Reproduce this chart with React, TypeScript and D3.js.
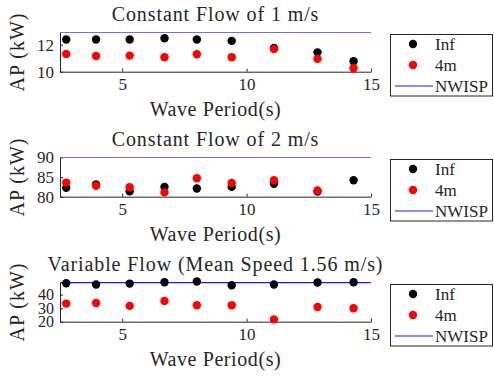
import React, { useEffect, useRef } from 'react';
import * as d3 from 'd3';

// wave periods (s) shared by all three panels
const periods = [2.75, 3.95, 5.3, 6.7, 8.0, 9.4, 11.1, 12.85, 14.3];

// panel 1: constant flow 1 m/s
const flow1Inf = [12.38, 12.38, 12.38, 12.48, 12.38, 12.28, 11.75, 11.43, 10.78];
const flow1Fm = [11.31, 11.16, 11.19, 11.07, 11.29, 11.07, 11.67, 10.95, 10.25];
const flow1Nwisp = 12.9;

// panel 2: constant flow 2 m/s
const flow2Inf = [82.3, 83.1, 81.4, 82.5, 82.1, 82.5, 83.3, 81.3, 84.2];
const flow2Fm = [83.6, 82.8, 82.4, 81.1, 84.7, 83.5, 84.2, 81.6, null];
const flow2Nwisp = 90;

// panel 3: variable flow
const varInf = [48.5, 47.5, 48.2, 49.2, 49.7, 47.0, 47.5, 49.0, 49.2];
const varFm = [33.4, 33.9, 31.7, 35.3, 32.2, 32.2, 21.7, 30.9, 30.0];
const varNwisp = 48.9;

const titles = ['Constant Flow of 1 m/s', 'Constant Flow of 2 m/s', 'Variable Flow (Mean Speed 1.56 m/s)'];
const yDomains = [[10, 12.9], [80, 90], [20, 49]];
const yTicks = [[10, 12], [80, 85, 90], [20, 30, 40]];
const xTicks = [5, 10, 15];
const legendLabels = ['Inf', '4m', 'NWISP'];

const FONT = 'Liberation Serif';
const INK = '#262626';

const App = () => {
    const ref = useRef<SVGSVGElement | null>(null);

    useEffect(() => {
        const svg = d3.select(ref.current);
        svg.selectAll('*').remove();

        const panels = [
            { inf: flow1Inf, fm: flow1Fm, nwisp: flow1Nwisp, lineColor: '#7070ff' },
            { inf: flow2Inf, fm: flow2Fm, nwisp: flow2Nwisp, lineColor: '#7070ff' },
            { inf: varInf, fm: varFm, nwisp: varNwisp, lineColor: '#1a1aff' },
        ];

        const left = 60, right = 371, top = 32.5, bottom = 71.7;
        const x = d3.scaleLinear().domain([2.5, 15]).range([left, right]);

        panels.forEach((p, i) => {
            const g = svg.append('g').attr('transform', `translate(0,${i * 125})`);
            const y = d3.scaleLinear().domain(yDomains[i]).range([bottom, top]);

            // x axis, ticks pointing inwards like matlab
            const xAxis = g.append('g')
                .attr('transform', `translate(0,${bottom})`)
                .call(d3.axisBottom(x).tickValues(xTicks).tickFormat(d3.format('d'))
                    .tickSizeInner(-3).tickSizeOuter(0).tickPadding(6));
            xAxis.attr('font-family', FONT).attr('font-size', 17);
            xAxis.select('.domain').attr('stroke', INK);
            xAxis.selectAll('line').attr('stroke', INK);
            xAxis.selectAll('text').attr('fill', INK);

            // y axis
            const yAxis = g.append('g')
                .attr('transform', `translate(${left},0)`)
                .call(d3.axisLeft(y).tickValues(yTicks[i]).tickFormat(d3.format('d'))
                    .tickSizeInner(-3).tickSizeOuter(0).tickPadding(6));
            yAxis.attr('font-family', FONT).attr('font-size', i === 2 ? 16 : 17);
            yAxis.select('.domain').attr('stroke', INK);
            yAxis.selectAll('line').attr('stroke', INK);
            yAxis.selectAll('text').attr('fill', INK);

            // NWISP reference line
            g.append('line')
                .attr('x1', x(2.5)).attr('x2', x(15))
                .attr('y1', y(p.nwisp)).attr('y2', y(p.nwisp))
                .attr('stroke', p.lineColor).attr('stroke-width', 1.2);

            g.selectAll('.inf')
                .data(periods)
                .enter()
                .append('circle')
                .attr('cx', d => x(d))
                .attr('cy', (d, j) => y(p.inf[j] as number))
                .attr('r', 4.2)
                .attr('fill', 'black');

            g.selectAll('.fm')
                .data(periods.map((d, j) => ({ t: d, v: p.fm[j] })).filter(d => d.v != null))
                .enter()
                .append('circle')
                .attr('cx', d => x(d.t))
                .attr('cy', d => y(d.v as number))
                .attr('r', 4.2)
                .attr('fill', 'red');

            // title and labels
            g.append('text')
                .attr('x', (left + right) / 2).attr('y', 20.5)
                .attr('text-anchor', 'middle')
                .attr('font-family', FONT).attr('font-size', 20)
                .attr('letter-spacing', 0.9)
                .attr('fill', INK)
                .text(titles[i]);

            g.append('text')
                .attr('x', (left + right) / 2).attr('y', 116)
                .attr('text-anchor', 'middle')
                .attr('font-family', FONT).attr('font-size', 20)
                .attr('letter-spacing', 0.6)
                .attr('fill', INK)
                .text('Wave Period(s)');

            g.append('text')
                .attr('transform', 'translate(24,52) rotate(-90)')
                .attr('text-anchor', 'middle')
                .attr('font-family', FONT).attr('font-size', 20)
                .attr('letter-spacing', 1)
                .attr('fill', INK)
                .text('AP (kW)');

            // legend
            const lg = g.append('g');
            lg.append('rect')
                .attr('x', 390.5).attr('y', 34.5)
                .attr('width', 102).attr('height', 61.5)
                .attr('fill', 'white').attr('stroke', INK);
            lg.append('circle').attr('cx', 413).attr('cy', 44).attr('r', 4.2).attr('fill', 'black');
            lg.append('circle').attr('cx', 413).attr('cy', 65).attr('r', 4.2).attr('fill', 'red');
            lg.append('line')
                .attr('x1', 395).attr('x2', 433).attr('y1', 86).attr('y2', 86)
                .attr('stroke', i === 2 ? p.lineColor : '#1a1aff').attr('stroke-width', 1.2);
            legendLabels.forEach((lab, k) => {
                lg.append('text')
                    .attr('x', 435).attr('y', 49.5 + k * 21)
                    .attr('font-family', FONT).attr('font-size', 17)
                    .attr('fill', INK)
                    .text(lab);
            });
        });
    }, []);

    return (
        <svg ref={ref} width={494} height={376} style={{ position: 'absolute', left: 0, top: 0, background: 'white' }} />
    );
};

export default App;
